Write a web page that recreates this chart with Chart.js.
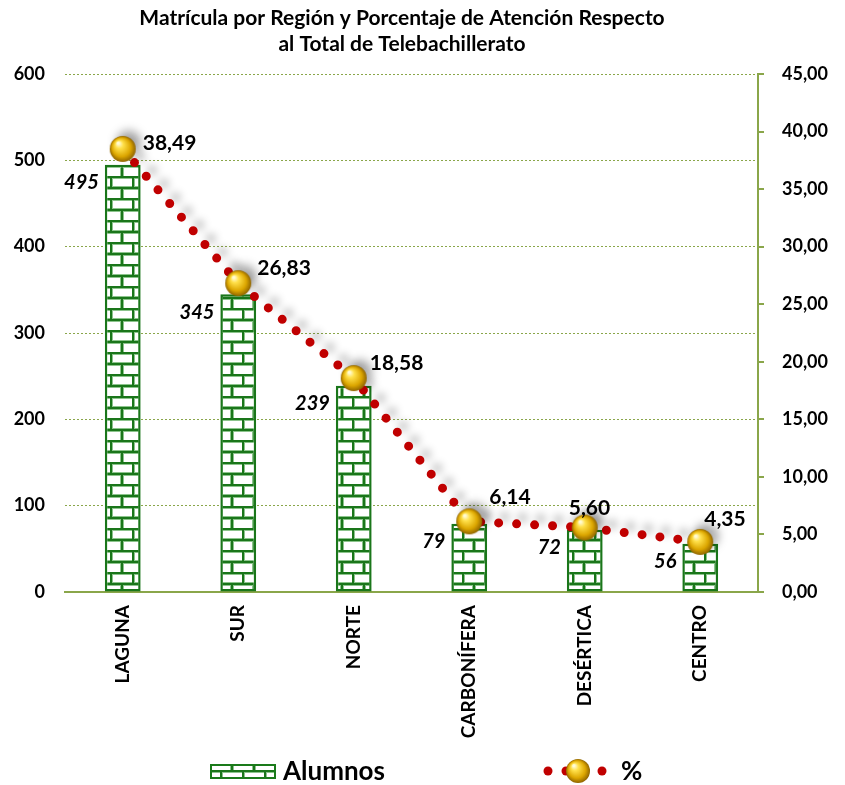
<!DOCTYPE html>
<html>
<head>
<meta charset="utf-8">
<script src="https://cdn.jsdelivr.net/npm/chart.js@4.4.1/dist/chart.umd.min.js"></script>
<style>
  body { margin: 0; background: #fff; }
</style>
</head>
<body>
<canvas id="chart" width="845" height="785"></canvas>
<script>
// data
const regiones = ['LAGUNA', 'SUR', 'NORTE', 'CARBONÍFERA', 'DESÉRTICA', 'CENTRO'];
const alumnos = [495, 345, 239, 79, 72, 56];
const porcentaje = [38.49, 26.83, 18.58, 6.14, 5.60, 4.35];
const leftTicks = [0, 100, 200, 300, 400, 500, 600];
const rightTicks = [0, 5, 10, 15, 20, 25, 30, 35, 40, 45];
const titulo = ['Matrícula por Región y Porcentaje de Atención Respecto', 'al Total de Telebachillerato'];

const FONT = 'Lato';
const OLIVE = '#8aa64a';
const fmt = v => v.toFixed(2).replace('.', ',');

// brick pattern for the bars
function brickPattern() {
    const c = document.createElement('canvas');
    c.width = 22; c.height = 22;
    const g = c.getContext('2d');
    g.fillStyle = '#fff';
    g.fillRect(0, 0, 22, 22);
    const lines = [[0, 1, 22, 1], [0, 12, 22, 12], [1, 1, 1, 12], [12, 12, 12, 22]];
    [[4, '#8cc48c'], [2, '#1a761a']].forEach(([w, col]) => {
        g.strokeStyle = col;
        g.lineWidth = w;
        lines.forEach(l => {
            g.beginPath(); g.moveTo(l[0], l[1]); g.lineTo(l[2], l[3]); g.stroke();
        });
    });
    return g.createPattern(c, 'repeat');
}

// gold ball marker
function goldBall(r) {
    const c = document.createElement('canvas');
    c.width = r * 2 + 2; c.height = r * 2 + 2;
    const g = c.getContext('2d');
    const cx = r + 1, cy = r + 1;
    const grad = g.createRadialGradient(cx - r * 0.35, cy - r * 0.45, 1, cx, cy, r);
    grad.addColorStop(0, '#fffbd6');
    grad.addColorStop(0.25, '#ffe04a');
    grad.addColorStop(0.7, '#dca600');
    grad.addColorStop(1, '#8f6400');
    g.fillStyle = grad;
    g.beginPath(); g.arc(cx, cy, r, 0, Math.PI * 2); g.fill();
    return c;
}

const bricks = brickPattern();
const ball = goldBall(13);
const smallBall = goldBall(12);

// title, centred a bit left of the canvas middle like the original
const titlePlugin = {
    id: 'titleText',
    afterDraw(chart) {
        const ctx = chart.ctx;
        ctx.save();
        ctx.fillStyle = '#000';
        ctx.font = 'bold 21px ' + FONT;
        ctx.textAlign = 'center';
        ctx.textBaseline = 'middle';
        titulo.forEach((t, i) => ctx.fillText(t, 402, 18 + i * 26));
        ctx.restore();
    }
};

// shadow under the dotted line
const shadowPlugin = {
    id: 'lineShadow',
    beforeDatasetDraw(chart, args) {
        if (args.index !== 1) return;
        const ctx = chart.ctx;
        ctx.save();
        ctx.shadowColor = 'rgba(0,0,0,0.3)';
        ctx.shadowBlur = 8;
        ctx.shadowOffsetX = 6;
        ctx.shadowOffsetY = -6;
    },
    afterDatasetDraw(chart, args) {
        if (args.index === 1) chart.ctx.restore();
    }
};

// value labels
const labelPlugin = {
    id: 'valueLabels',
    afterDatasetsDraw(chart) {
        const ctx = chart.ctx;
        ctx.save();
        ctx.fillStyle = '#000';
        ctx.textBaseline = 'middle';

        ctx.font = 'italic bold 20px ' + FONT;
        ctx.textAlign = 'right';
        chart.getDatasetMeta(0).data.forEach((bar, i) => {
            ctx.fillText(alumnos[i], bar.x - bar.width / 2 - 6, bar.y + 18);
        });

        const offs = [[20, -6], [19, -15], [16, -15], [20, -24], [-16, -19], [4, -23]];
        ctx.font = 'bold 21px ' + FONT;
        ctx.textAlign = 'left';
        chart.getDatasetMeta(1).data.forEach((pt, i) => {
            ctx.fillText(fmt(porcentaje[i]), pt.x + offs[i][0], pt.y + offs[i][1]);
        });
        ctx.restore();
    }
};

// legend at the bottom
const legendPlugin = {
    id: 'bottomLegend',
    afterDraw(chart) {
        const ctx = chart.ctx;
        const y = 771;
        ctx.save();
        ctx.fillStyle = bricks;
        ctx.fillRect(211, 765, 64, 13);
        ctx.strokeStyle = '#1a7a1a';
        ctx.lineWidth = 2;
        ctx.strokeRect(211, 765, 64, 13);

        ctx.fillStyle = '#000';
        ctx.font = 'bold 26px ' + FONT;
        ctx.textBaseline = 'middle';
        ctx.textAlign = 'left';
        ctx.fillText(chart.data.datasets[0].label, 283, y + 1);

        ctx.fillStyle = '#c00000';
        [548, 566, 602].forEach(x => {
            ctx.beginPath(); ctx.arc(x, y, 4.5, 0, Math.PI * 2); ctx.fill();
        });
        ctx.drawImage(smallBall, 578 - 13, y - 13);
        ctx.fillStyle = '#000';
        ctx.fillText(chart.data.datasets[1].label, 621, y + 1);
        ctx.restore();
    }
};

new Chart(document.getElementById('chart'), {
    data: {
        labels: regiones,
        datasets: [{
            type: 'bar',
            label: 'Alumnos',
            data: alumnos,
            yAxisID: 'y',
            order: 1,
            backgroundColor: bricks,
            borderColor: '#1a761a',
            borderWidth: 2.5,
            borderSkipped: false,
            barPercentage: 0.31,
            categoryPercentage: 1
        }, {
            type: 'line',
            label: '%',
            data: porcentaje,
            yAxisID: 'y1',
            order: 0,
            borderColor: '#c00000',
            borderWidth: 9,
            borderDash: [0, 18],
            borderCapStyle: 'round',
            tension: 0,
            fill: false,
            pointStyle: ball,
            pointRadius: 13,
            pointHoverRadius: 13
        }]
    },
    options: {
        responsive: false,
        animation: false,
        layout: { padding: { left: 0, right: 0, top: 74, bottom: 28 } },
        plugins: {
            legend: { display: false },
            tooltip: { enabled: false },
            title: { display: false }
        },
        scales: {
            x: {
                offset: true,
                grid: { display: false },
                border: { display: true, color: OLIVE, width: 2 },
                ticks: {
                    color: '#000',
                    font: { family: FONT, size: 19, weight: 'bold' },
                    maxRotation: 90,
                    minRotation: 90,
                    padding: 5
                },
                afterFit: s => { s.height = 165; }
            },
            y: {
                position: 'left',
                min: leftTicks[0],
                max: leftTicks[leftTicks.length - 1],
                afterBuildTicks: s => { s.ticks = leftTicks.map(v => ({ value: v })); },
                grid: { color: OLIVE, drawTicks: false, lineWidth: 1 },
                border: { display: false, dash: [2, 2] },
                ticks: {
                    color: '#000',
                    font: { family: FONT, size: 18, weight: 'bold' },
                    padding: 20
                },
                afterFit: s => { s.width = 65; }
            },
            y1: {
                position: 'right',
                min: rightTicks[0],
                max: rightTicks[rightTicks.length - 1],
                afterBuildTicks: s => { s.ticks = rightTicks.map(v => ({ value: v })); },
                grid: { drawOnChartArea: false, color: OLIVE, tickLength: 6, lineWidth: 2 },
                border: { display: true, color: OLIVE, width: 2 },
                ticks: {
                    color: '#000',
                    font: { family: FONT, size: 18, weight: 'bold' },
                    padding: 18,
                    callback: v => fmt(v)
                },
                afterFit: s => { s.width = 87; }
            }
        }
    },
    plugins: [titlePlugin, shadowPlugin, labelPlugin, legendPlugin]
});
</script>
</body>
</html>
